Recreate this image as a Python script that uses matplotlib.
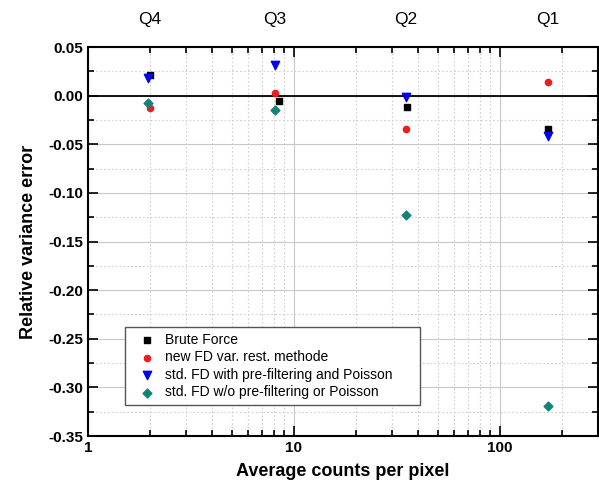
import matplotlib
matplotlib.use("Agg")
import matplotlib.pyplot as plt
from matplotlib.ticker import LogLocator, MultipleLocator, FixedLocator, FuncFormatter

plt.rcParams['font.family'] = ['Liberation Sans', 'DejaVu Sans']

quarters = ["Q4", "Q3", "Q2", "Q1"]
quarter_x = [2.0, 8.1, 35.0, 172.0]

bf_x = [2.0, 8.45, 35.5, 172.0]
bf_y = [0.021, -0.005, -0.012, -0.034]

new_x = [2.0, 8.1, 35.0, 172.0]
new_y = [-0.0127, 0.0027, -0.034, 0.0137]

pre_x = [1.96, 8.1, 35.0, 172.0]
pre_y = [0.018, 0.032, -0.001, -0.041]

wo_x = [1.96, 8.1, 35.0, 172.0]
wo_y = [-0.008, -0.0144, -0.123, -0.319]

labels = ["Brute Force", "new FD var. rest. methode",
          "std. FD with pre-filtering and Poisson",
          "std. FD w/o pre-filtering or Poisson"]

fig = plt.figure(figsize=(5.99, 4.82), dpi=100)
ax = fig.add_axes([0.147, 0.0954, 0.851, 0.807])

ax.set_xscale('log')
ax.set_xlim(1, 300)
ax.set_ylim(-0.35, 0.05)

ax.yaxis.set_major_locator(MultipleLocator(0.05))
ax.yaxis.set_minor_locator(MultipleLocator(0.025))
ax.xaxis.set_major_locator(FixedLocator([1, 10, 100]))
ax.xaxis.set_minor_locator(LogLocator(base=10, subs=range(2, 10)))
ax.xaxis.set_major_formatter(FuncFormatter(lambda v, p: f"{int(round(v))}"))
ax.xaxis.set_minor_formatter(FuncFormatter(lambda v, p: ""))
ax.yaxis.set_major_formatter(FuncFormatter(lambda v, p: f"{v:.2f}" if abs(v) > 1e-9 else "0.00"))

ax.grid(True, which='major', color='#c8c8c8', linewidth=0.8, linestyle='-')
ax.grid(True, which='minor', color='#d0d0d0', linewidth=0.8, linestyle=(0, (1.5, 2)))
ax.set_axisbelow(True)

ax.tick_params(which='both', direction='in', top=True, right=True, width=1.2)
ax.tick_params(which='major', length=7, labelsize=11)
ax.tick_params(which='minor', length=4)
for lab in ax.get_xticklabels() + ax.get_yticklabels():
    lab.set_fontweight('bold')
for s in ax.spines.values():
    s.set_linewidth(1.5)

ax.axhline(0, color='black', linewidth=1.3, zorder=2)

ax.scatter(bf_x, bf_y, marker='s', s=22, color='black', label=labels[0], zorder=3)
ax.scatter(new_x, new_y, marker='o', s=20, color='#ee1c1c', label=labels[1], zorder=3)
ax.scatter(pre_x, pre_y, marker='v', s=36, color='#0000ee', label=labels[2], zorder=3)
ax.scatter(wo_x, wo_y, marker='D', s=20, color='#108478', label=labels[3], zorder=3)

for q, x in zip(quarters, quarter_x):
    ax.text(x, 1.07, q, transform=ax.get_xaxis_transform(), ha='center', va='center', fontsize=12.5)

ax.set_xlabel("Average counts per pixel", fontsize=13, fontweight='bold', labelpad=6)
ax.set_ylabel("Relative variance error", fontsize=13, fontweight='bold', labelpad=8)

leg = ax.legend(loc='lower left', bbox_to_anchor=(0.0725, 0.08, 0.578, 0.2), mode='expand',
                fontsize=10, frameon=True, fancybox=False, edgecolor='#555555', framealpha=1,
                handlelength=2.4, handletextpad=0.1, labelspacing=0.25,
                borderpad=0.4, borderaxespad=0, scatterpoints=1)
leg.get_frame().set_linewidth(1.0)

fig.savefig("out.png", dpi=100)
